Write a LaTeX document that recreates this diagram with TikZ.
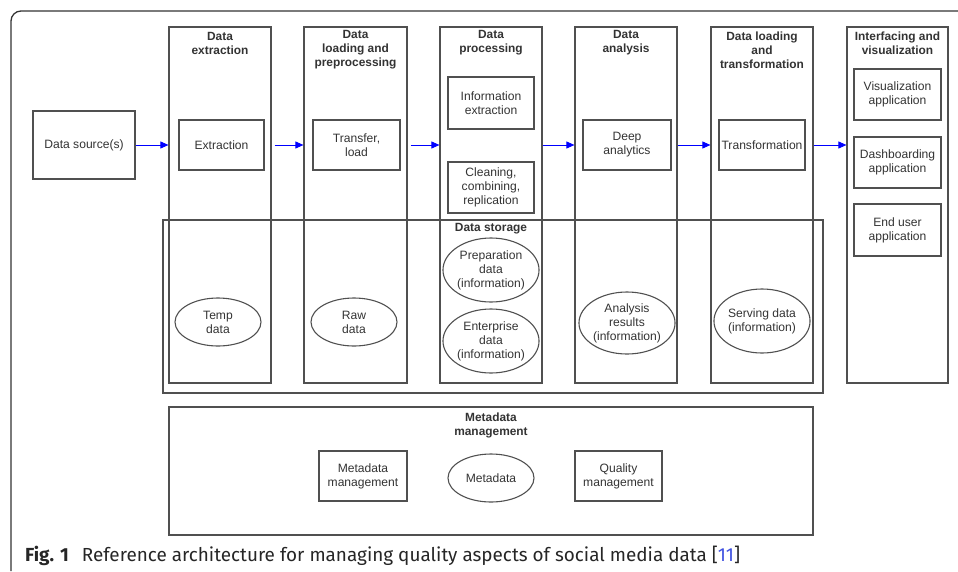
\documentclass[tikz,border=0pt]{standalone}
\usepackage{fontspec}
\setmainfont{Liberation Sans}
\newfontfamily\capfont{Fira Sans}
\usetikzlibrary{shapes.geometric,arrows.meta}
\definecolor{edge}{HTML}{505050}
\definecolor{ink}{HTML}{333333}
\definecolor{flow}{HTML}{0000FF}
\definecolor{citeblue}{HTML}{3F51E0}
\begin{document}
\begin{tikzpicture}[x=1pt,y=-1pt,
  every node/.style={font=\fontsize{12.1}{14}\selectfont, text=ink, inner sep=0pt, align=center},
  stagecol/.style={draw=edge, line width=1.2pt, rectangle, minimum width=102pt, minimum height=356pt},
  procbox/.style={draw=edge, line width=1.2pt, rectangle, minimum width=86pt, minimum height=50pt},
  store/.style={draw=edge, line width=1.1pt, ellipse, minimum width=86pt, minimum height=48pt},
  head/.style={font=\bfseries\fontsize{11.9}{14}\selectfont},
  flowarrow/.style={draw=flow, line width=0.9pt, -{Triangle[length=8pt,width=7pt]}}
]
\useasboundingbox (0,0) rectangle (958,571);

% outer frame, rounded at the top-left corner
\draw[draw=black!80, line width=1.3pt, rounded corners=10pt] (11,571) -- (11,11) -- (958,11);

% source
\node[procbox, minimum width=102pt, minimum height=68pt] (src) at (84,145) {Data source(s)};

% stage columns
\node[stagecol] (c1) at (220,205) {};
\node[stagecol, minimum width=103pt] (c2) at (355.5,205) {};
\node[stagecol] (c3) at (491,205) {};
\node[stagecol] (c4) at (626,205) {};
\node[stagecol] (c5) at (762,205) {};
\node[stagecol, minimum width=101pt] (c6) at (897.5,205) {};

% column headings
\node[head] (h1) at (220,43) {Data\\extraction};
\node[head] (h2) at (355.5,50) {Data\\loading and\\preprocessing};
\node[head] (h3) at (491,43) {Data\\processing};
\node[head] (h4) at (626,43) {Data\\analysis};
\node[head] (h5) at (762,50) {Data loading\\and\\transformation};
\node[head] (h6) at (897.5,43) {Interfacing and\\visualization};

% processing boxes
\node[procbox, minimum width=85pt] (ext) at (221.5,145) {Extraction};
\node[procbox, minimum width=87pt] (load) at (356.5,145) {Transfer,\\load};
\node[procbox, minimum height=52pt] (info) at (491,103) {Information\\extraction};
\node[procbox, minimum height=51pt] (clean) at (491,187.5) {Cleaning,\\combining,\\replication};
\node[procbox, minimum width=88pt] (deep) at (627,145) {Deep\\analytics};
\node[procbox] (trans) at (762,145) {Transformation};
\node[procbox, minimum width=87pt, minimum height=51pt] (vis) at (897.5,94.5) {Visualization\\application};
\node[procbox, minimum width=87pt, minimum height=51pt] (dash) at (897.5,162.5) {Dashboarding\\application};
\node[procbox, minimum width=87pt, minimum height=52pt] (enduser) at (897.5,230) {End user\\application};

% data storage layer
\node[draw=edge, line width=1.2pt, rectangle, minimum width=660pt, minimum height=173pt] (storage) at (493,306.5) {};
\node[head] (storagelbl) at (491,229) {Data storage};
\node[store] (temp) at (218,322) {Temp\\data};
\node[store] (raw) at (354,322) {Raw\\data};
\node[store, minimum width=92pt, minimum height=64pt] (prep) at (491,270) {Preparation\\data\\(information)};
\node[store, minimum width=92pt, minimum height=64pt] (ent) at (491,341) {Enterprise\\data\\(information)};
\node[store, minimum height=62pt] (ana) at (627,323) {Analysis\\results\\(information)};
\node[store, minimum height=64pt] (serve) at (762,321) {Serving data\\(information)};

% metadata layer
\node[draw=edge, line width=1.2pt, rectangle, minimum width=644pt, minimum height=128pt] (meta) at (491,471) {};
\node[head] (metalbl) at (491,425.5) {Metadata\\management};
\node[procbox, minimum width=88pt] (mm) at (363,476) {Metadata\\management};
\node[store] (md) at (491,478) {Metadata};
\node[procbox, minimum width=87pt] (qm) at (618.5,476) {Quality\\management};

% data flow
\draw[flowarrow] (src.east) -- (src.east -| c1.west);
\draw[flowarrow, shorten <=3pt] (c1.east |- src.east) -- (c2.west |- src.east);
\draw[flowarrow, shorten <=3pt] (c2.east |- src.east) -- (c3.west |- src.east);
\draw[flowarrow] (c3.east |- src.east) -- (c4.west |- src.east);
\draw[flowarrow] (c4.east |- src.east) -- (c5.west |- src.east);
\draw[flowarrow] (c5.east |- src.east) -- (c6.west |- src.east);

% caption
\node[anchor=base west, font=\capfont\fontsize{18.9}{22}\selectfont, text=black!85, align=left] (cap) at (25,561)
  {\textbf{Fig. 1}\hspace{13pt}Reference architecture for managing quality aspects of social media data [\textcolor{citeblue}{11}]};
\end{tikzpicture}
\end{document}
